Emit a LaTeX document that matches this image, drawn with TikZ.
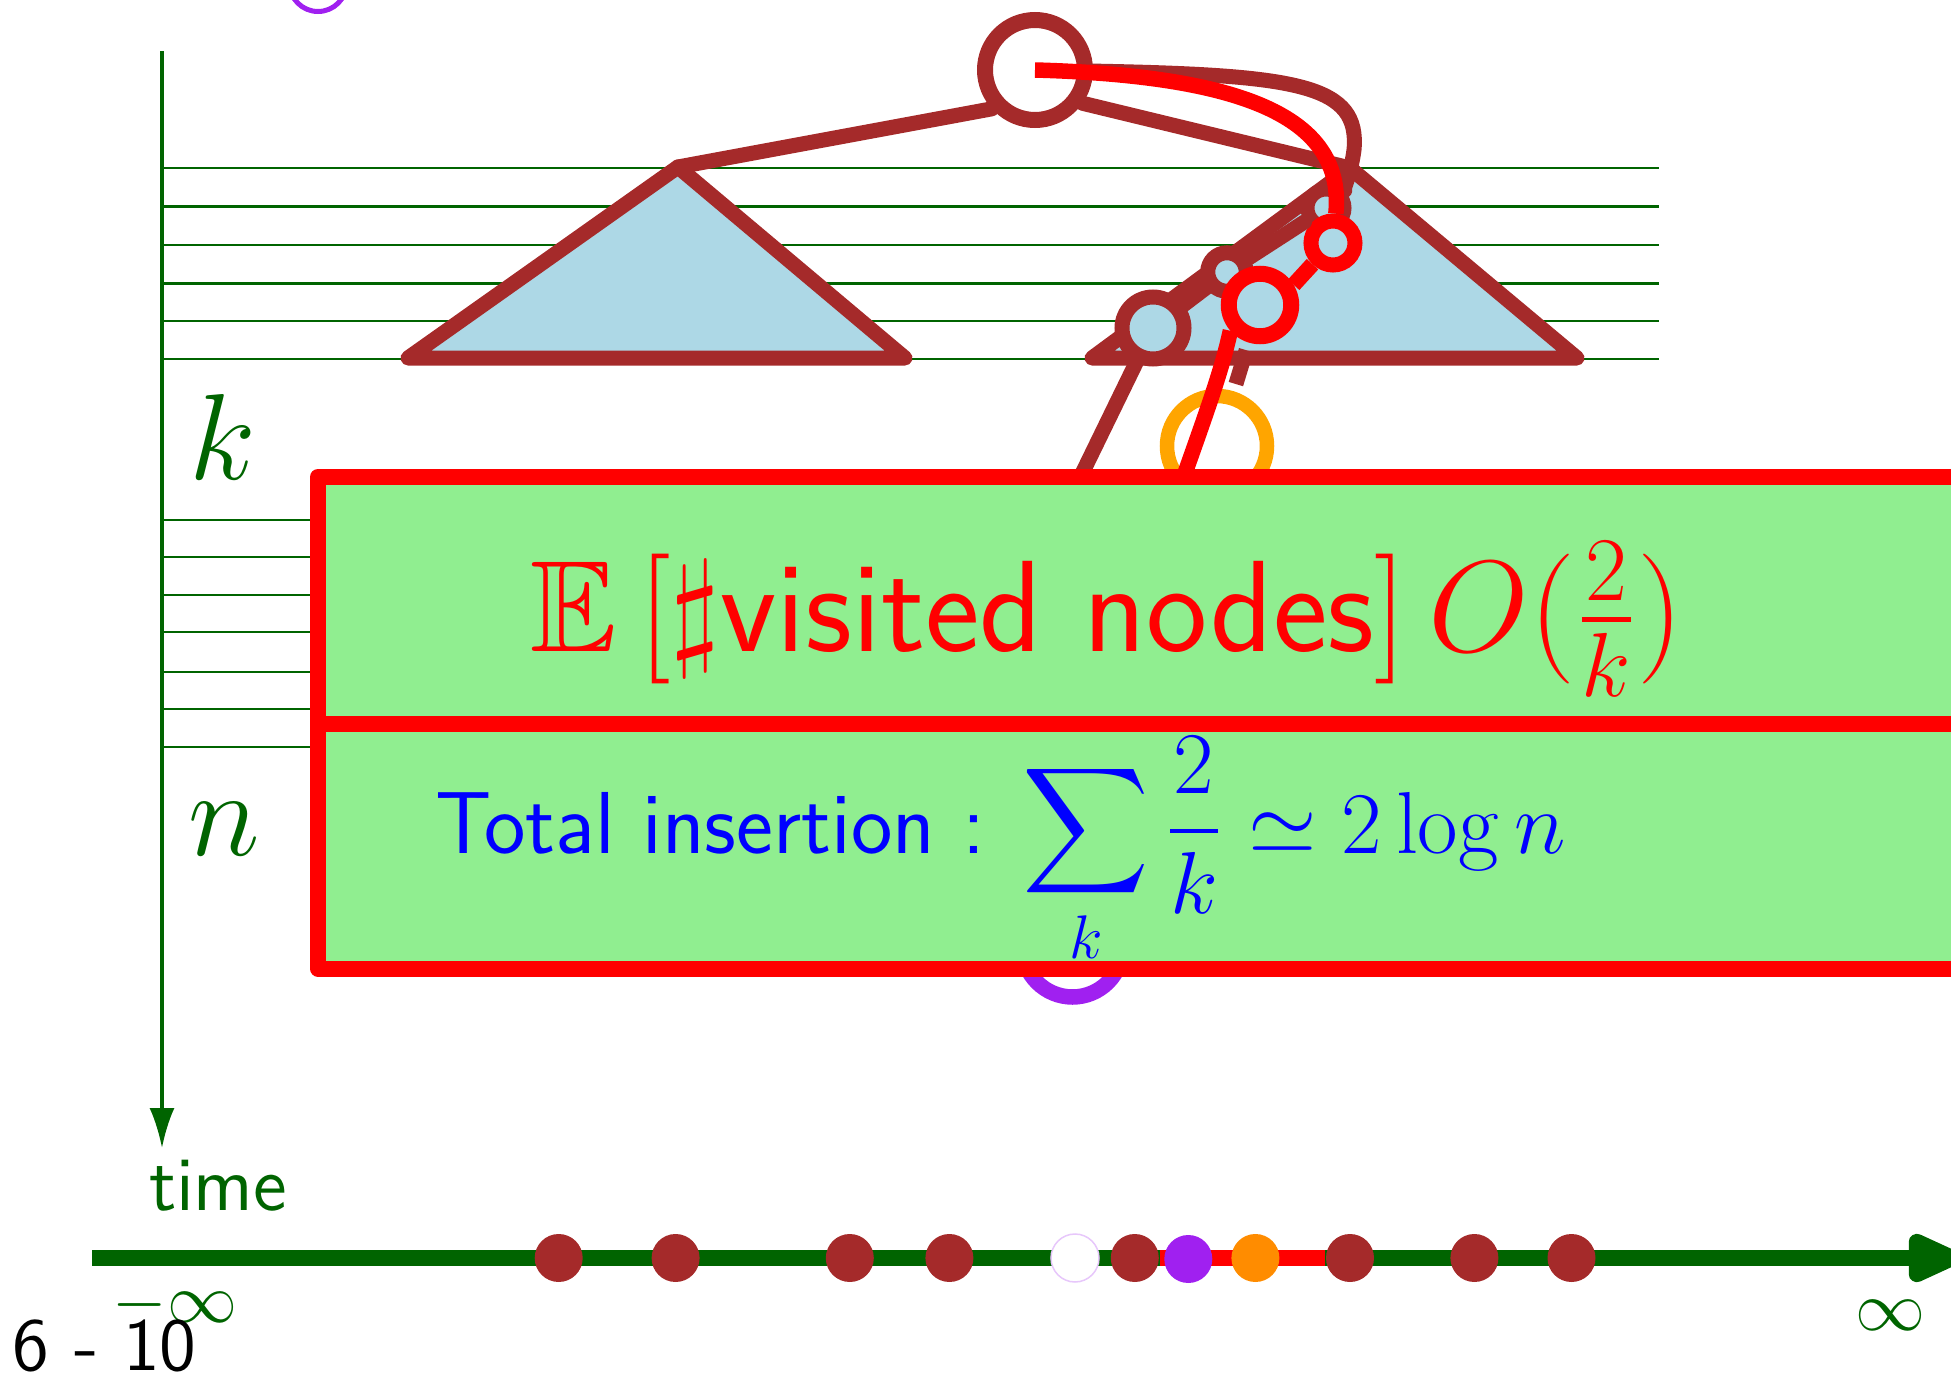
\RequirePackage{fix-cm}
\documentclass[tikz,border=0pt]{standalone}
\usepackage{amsmath,amssymb}
\usepackage{xcolor}
\usepackage{tikz}
\usetikzlibrary{arrows.meta,positioning}
\definecolor{treeBrown}{RGB}{165,42,42}
\definecolor{leafBlue}{RGB}{173,216,230}
\definecolor{boxGreen}{RGB}{144,238,144}
\definecolor{axisGreen}{RGB}{0,100,0}
\definecolor{insPurple}{RGB}{160,32,240}
\definecolor{insOrange}{RGB}{255,165,0}
\definecolor{dotOrange}{RGB}{255,140,0}

\begin{document}
\begin{tikzpicture}[x=0.2pt, y=-0.2pt,
  tri/.style={draw=treeBrown, fill=leafBlue, line width=3pt, line join=round},
  vtx/.style={circle, inner sep=0pt, draw=treeBrown, fill=leafBlue, line width=3pt},
  hit/.style={vtx, draw=red},
  ring/.style={circle, inner sep=0pt, minimum size=20pt, line width=3pt},
  branch/.style={draw=treeBrown, line width=3pt, line cap=round},
  search/.style={draw=red, line width=3.1pt},
  cell/.style={draw=red, fill=boxGreen, line width=3.2pt, line join=round, minimum width=331.4pt, inner sep=0pt},
  tdot/.style={circle, inner sep=0pt, minimum size=9.6pt, fill=treeBrown},
  lbl/.style={inner sep=0pt, text=axisGreen}]
  \useasboundingbox (0,0) rectangle (1951,1373);

  % levels
  \foreach \y in {168,206.5,245,283.5,321,359}
    \draw[axisGreen, line width=0.55pt] (162,\y) -- (1659,\y);
  \foreach \y in {520,557,595,632,672,709,747}
    \draw[axisGreen, line width=0.55pt] (162,\y) -- (330,\y);
  \coordinate (vtop) at (162,51);
  \coordinate (vbot) at (162,1148);
  \draw[axisGreen, line width=0.7pt, -{Latex[length=8pt,width=5pt]}] (vtop) -- (vbot);
  \node[lbl, font=\fontsize{24.5}{29}\selectfont] (klab) at (223,437) {$k$};
  \node[lbl, font=\fontsize{24.5}{29}\selectfont] (nlab) at (224,829) {$n$};

  \node[ring, draw=insPurple, line width=1pt, minimum size=11.4pt] (prev) at (318,-17) {};

  % the two subtrees
  \coordinate (lapex) at (678,167);
  \coordinate (lleft) at (408,358);
  \coordinate (lright) at (905,358);
  \coordinate (rapex) at (1350,168);
  \coordinate (rleft) at (1092,358);
  \coordinate (rright) at (1577,358);
  \draw[tri] (lapex) -- (lleft) -- (lright) -- cycle;
  \draw[tri] (rapex) -- (rleft) -- (rright) -- cycle;

  \node[vtx, fill=white, minimum size=20pt, line width=3.2pt] (root) at (1035,70) {};
  \node[vtx, minimum size=12.4pt] (b3) at (1153,328) {};
  \node[vtx, minimum size=7.7pt] (b2) at (1227,272) {};
  \node[vtx, minimum size=7.4pt, line width=2.8pt] (b1) at (1326,208) {};
  \node[hit, minimum size=8.8pt] (r1) at (1333,243) {};
  \node[hit, minimum size=12.5pt, line width=3.2pt] (r2) at (1260,305) {};
  \node[ring, draw=insOrange, line width=2.9pt] (newpos) at (1217,446) {};
  \node[ring, draw=insPurple, line width=3.1pt] (oldpos) at (1072.5,947) {};

  \coordinate (lost) at (1040,560);
  \coordinate (down) at (1172,510);
  \draw[branch] (root.222) -- (lapex);
  \draw[branch] (root.325) -- (rapex);
  \draw[branch] (root) .. controls (1300,75) and (1360,85) .. (1354,150)
    .. controls (1350,180) and (1340,195) .. (b1);
  \draw[branch] (b3) -- (b2) -- (b1);
  \draw[branch] (b3) -- (lost);
  \draw[branch, line cap=butt, shorten <=1.6pt, shorten >=1.5pt] (r2) -- (newpos);

  % search path
  \draw[search] (root.center) .. controls (1250,76) and (1345,120) .. (r1);
  \draw[search] (r1.226) -- (r2.31);
  \draw[search] (r2.221) .. controls (1221,375) and (1200,430) .. (down);

  % cost box
  \node[cell, minimum height=49.3pt] (upper) at (1146.5,600.25) {};
  \node[cell, minimum height=49pt] (lower) at (1146.5,846) {};
  \node[anchor=base west, inner sep=0pt, text=red, font=\fontsize{26}{31}\selectfont] (cost) at (529,652)
    {$\mathbb{E}\left[\sharp\mbox{\sffamily visited nodes}\right] O(\frac{2}{k})$};
  \node[anchor=base west, inner sep=0pt, text=blue, font=\sffamily\fontsize{17.6}{21}\selectfont] (total) at (434,853)
    {Total insertion : $\displaystyle\sum_k \frac{2}{k} \simeq 2\log n$};

  % time line
  \coordinate (tstart) at (92,1258);
  \coordinate (tend) at (1960,1258);
  \draw[axisGreen, line width=3.3pt, -{Triangle[round,length=13pt,width=10.4pt]}] (tstart) -- (tend);
  \foreach \x [count=\i] in {558.7,675.6,849.8,949.4,1134.8,1350,1474.4,1571.5}
    \node[tdot] (t\i) at (\x,1258) {};
  \draw[red, line width=3.3pt] (t5) -- (t6);
  \node[tdot, fill=white, draw=insPurple!25, line width=0.3pt] (tprev) at (1075,1258) {};
  \node[tdot, fill=insPurple] (tins) at (1188.3,1259) {};
  \node[tdot, fill=dotOrange] (tnew) at (1255.4,1258) {};

  \node[lbl, anchor=base west, font=\sffamily\fontsize{15.4}{18}\selectfont] (timelab) at (148,1210) {time};
  \node[lbl, anchor=base west, font=\fontsize{14}{17}\selectfont] (minf) at (112,1322) {$-\infty$};
  \node[lbl, anchor=base west, font=\fontsize{14}{17}\selectfont] (pinf) at (1854,1330) {$\infty$};
  \node[anchor=base west, inner sep=0pt, font=\sffamily\fontsize{15}{18}\selectfont] (slide) at (12,1370) {6 - 10};
\end{tikzpicture}
\end{document}
